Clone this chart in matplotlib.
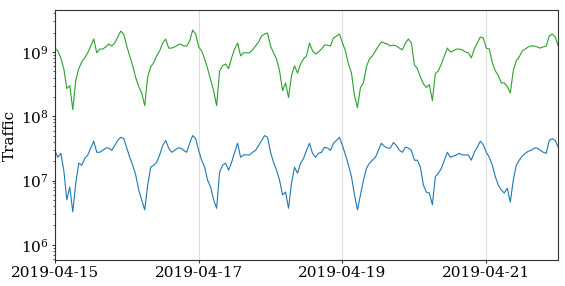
import numpy as np
import pandas as pd
import matplotlib
matplotlib.use("Agg")
import matplotlib.pyplot as plt
import matplotlib.dates as mdates

plt.rcParams['font.family'] = ['DejaVu Serif']
plt.rcParams['mathtext.fontset'] = 'dejavuserif'

# hourly samples, 2019-04-15 00:00 .. 2019-04-22 00:00
start = "2019-04-15 00:00"
n_hours = 169
tick_days = ["2019-04-15", "2019-04-17", "2019-04-19", "2019-04-21"]

# upper series, in units of 1e8
green_e8 = [
    11.5, 10.4, 8.1, 5.5, 2.7, 3.0, 1.27, 3.6, 5.5, 7.0, 8.1, 9.7, 12.4, 15.9, 9.7, 11.1,
    11.1, 12.0, 13.3, 12.4, 13.8, 17.1, 21.1, 19.0, 12.4, 8.7, 6.1, 4.0, 2.9, 2.3, 1.46, 4.1,
    5.9, 6.8, 8.7, 10.4, 13.8, 15.9, 11.5, 11.5, 12.0, 12.8, 13.3, 12.4, 12.4, 14.8, 21.9, 19.0,
    12.0, 10.4, 7.8, 5.5, 3.7, 2.5, 1.46, 5.1, 6.1, 6.5, 5.5, 8.1, 11.1, 13.8, 8.7, 9.7,
    9.7, 9.7, 10.8, 12.4, 14.3, 17.7, 19.0, 19.7, 12.4, 9.7, 7.8, 5.1, 2.5, 3.3, 1.95, 4.3,
    6.1, 4.7, 6.5, 7.8, 8.7, 13.8, 10.4, 9.3, 10.0, 11.1, 12.8, 12.8, 12.4, 16.5, 17.7, 19.0,
    13.8, 10.4, 6.5, 4.7, 2.1, 1.36, 2.8, 3.3, 5.9, 7.8, 8.7, 10.4, 12.4, 14.3, 13.8, 13.3,
    12.4, 12.8, 12.4, 11.5, 10.8, 13.8, 15.9, 13.8, 6.3, 5.5, 4.1, 3.2, 2.8, 3.1, 1.75, 4.6,
    5.1, 6.5, 8.7, 11.5, 10.0, 10.4, 11.1, 11.1, 10.8, 10.0, 9.7, 8.1, 11.1, 13.8, 17.1, 16.5,
    11.5, 11.1, 6.8, 5.1, 4.3, 3.3, 3.3, 2.9, 2.3, 5.1, 7.3, 8.4, 10.4, 11.1, 12.0, 12.4,
    12.4, 12.0, 11.5, 12.0, 12.4, 17.7, 19.0, 17.1, 12.4,
]

# lower series, in units of 1e6
blue_e6 = [
    29.5, 23, 26.5, 14.5, 5.0, 7.9, 3.25, 9.1, 18.6, 17.3, 22, 25, 32, 41, 27.5, 27.5,
    29.5, 32, 32, 29.5, 35, 42, 47, 45, 32, 23, 17.3, 12.2, 7.1, 5.0, 3.5, 8.5,
    16.1, 17.3, 19.2, 25, 35, 42, 32, 27.5, 29.5, 32, 32, 29.5, 27.5, 38, 50, 45,
    29.5, 20.7, 16.1, 10.1, 7.9, 5.0, 3.7, 13.5, 17.3, 18.6, 14.5, 19.2, 27.5, 38, 23, 25,
    25, 25, 27.5, 29.5, 35, 42, 50, 47, 27.5, 19.2, 14.5, 10.1, 6.0, 6.6, 3.7, 9.1,
    16.1, 13.0, 18.6, 22, 29.5, 38, 26.5, 23, 26.5, 27.5, 33, 32, 29.5, 38, 42, 47,
    35, 25, 17.3, 11.5, 6.0, 3.5, 6.0, 10.1, 15.5, 18.6, 20.7, 23, 29.5, 38, 34, 32,
    32, 39, 35, 29.5, 27.5, 33, 32, 29.5, 20.7, 20.7, 16.1, 8.5, 6.6, 6.4, 4.2, 11.5,
    13.0, 15.5, 20.7, 27.5, 23, 24, 25, 26.5, 25, 25, 25, 20.7, 27.5, 33, 41, 36,
    27.5, 23, 17.3, 11.5, 8.5, 7.1, 6.4, 7.6, 4.6, 10.1, 17.3, 20.7, 24, 26.5, 28.5, 29.5,
    32, 32, 29.5, 27.5, 26.5, 42, 45, 42, 33,
]

times = pd.date_range(start, periods=n_hours, freq="h")
green = np.array(green_e8) * 1e8
blue = np.array(blue_e6) * 1e6

fig = plt.figure(figsize=(5.65, 2.86), dpi=100)
ax = fig.add_axes([0.097, 0.091, 0.891, 0.874])

ax.plot(times, green, color="#2ca02c", lw=0.8)
ax.plot(times, blue, color="#1f77b4", lw=0.8)

ax.set_yscale("log")
ax.set_ylim(5.8e5, 4.5e9)
ax.set_xlim(times[0], times[-1])
ax.set_xticks(pd.to_datetime(tick_days))
ax.xaxis.set_major_formatter(mdates.DateFormatter("%Y-%m-%d"))
ax.grid(axis="x", color="#dddddd", lw=0.8)
ax.set_ylabel("Traffic", fontsize=11, labelpad=3)
ax.tick_params(labelsize=11, length=2.5, pad=2, color="#333333")
ax.tick_params(which="minor", length=1.5, color="#333333")
for s in ax.spines.values():
    s.set_color("#333333")

fig.savefig("out.png", dpi=100)
